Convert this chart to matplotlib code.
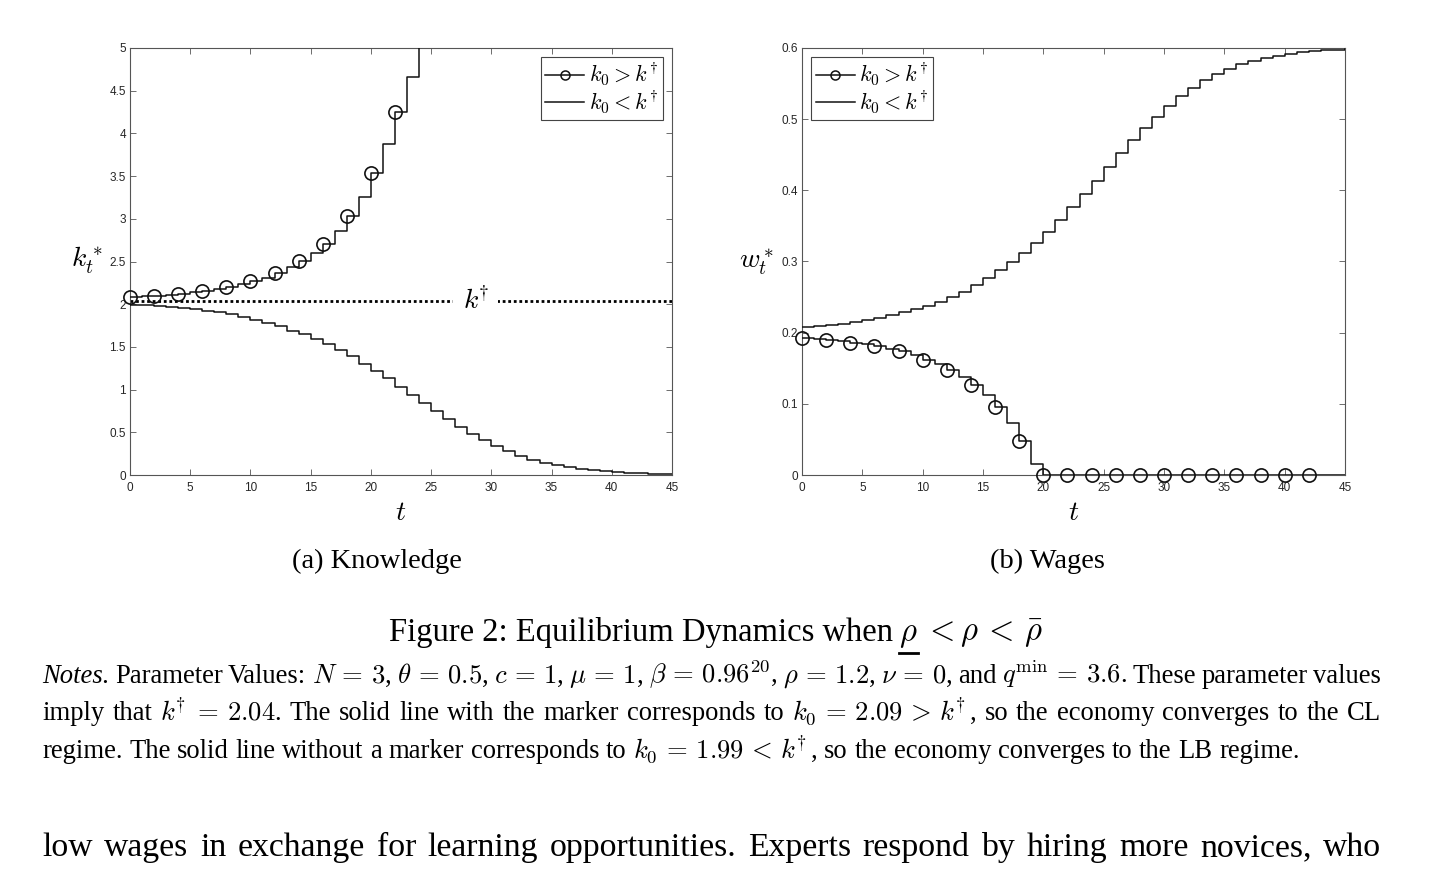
import re
import matplotlib
matplotlib.use('Agg')
import matplotlib.pyplot as plt
import numpy as np
from matplotlib.lines import Line2D
from matplotlib.ticker import MultipleLocator, FuncFormatter

# ---- data ----
t = np.arange(46)          # periods 0..45
t_hi = np.arange(25)       # k0 > k_dagger path leaves the plot after t=24

k_dagger = 2.04

# knowledge, k0 > k_dagger (with markers)
k_hi = [2.09, 2.095, 2.10, 2.11, 2.125, 2.14, 2.16, 2.18, 2.205, 2.235,
        2.27, 2.31, 2.365, 2.43, 2.51, 2.60, 2.71, 2.855, 3.03, 3.25,
        3.54, 3.88, 4.25, 4.66, 5.3]
# knowledge, k0 < k_dagger
k_lo = [1.99, 1.985, 1.975, 1.965, 1.955, 1.94, 1.925, 1.905, 1.88, 1.855,
        1.82, 1.78, 1.74, 1.69, 1.65, 1.59, 1.53, 1.46, 1.39, 1.30,
        1.22, 1.13, 1.035, 0.94, 0.84, 0.745, 0.655, 0.565, 0.48, 0.405,
        0.34, 0.28, 0.225, 0.18, 0.145, 0.115, 0.09, 0.07, 0.055, 0.043,
        0.033, 0.025, 0.018, 0.013, 0.01, 0.007]
# wages, k0 > k_dagger (with markers)
w_hi = [0.1925, 0.1915, 0.189, 0.1878, 0.186, 0.184, 0.181, 0.1775, 0.174, 0.168,
        0.162, 0.156, 0.148, 0.1375, 0.127, 0.1125, 0.095, 0.073, 0.048, 0.015,
        0, 0, 0, 0, 0, 0, 0, 0, 0, 0,
        0, 0, 0, 0, 0, 0, 0, 0, 0, 0,
        0, 0, 0, 0, 0, 0]
# wages, k0 < k_dagger
w_lo = [0.2085, 0.209, 0.2105, 0.2125, 0.215, 0.2178, 0.221, 0.2249, 0.2285, 0.233,
        0.2375, 0.2432, 0.250, 0.2578, 0.2667, 0.2765, 0.2875, 0.299, 0.312, 0.326,
        0.3417, 0.3586, 0.377, 0.3947, 0.4134, 0.433, 0.4518, 0.4706, 0.4875, 0.5034,
        0.5184, 0.532, 0.5442, 0.5545, 0.5634, 0.5705, 0.577, 0.5817, 0.5855, 0.5887,
        0.5916, 0.594, 0.5953, 0.5967, 0.5977, 0.598]

kd = r'k^{\!\dagger}'
kd_tight = r'k^{\!\!\dagger}'
label_hi = r'$k_0 > ' + kd + '$'
label_lo = r'$k_0 < ' + kd + '$'

# ---- page text ----
sub_a = '(a) Knowledge'
sub_b = '(b) Wages'
# caption pieces; the second one (rho) gets an underline drawn by hand
caption = ['Figure 2: Equilibrium Dynamics when', r'$\rho$', r'$< \rho < \bar{\rho}$']
notes = [
    r'Notes. Parameter Values: $N = 3$, $\theta = 0.5$, $c = 1$, $\mu = 1$, $\beta = 0.96^{20}$, '
    r'$\rho = 1.2$, $\nu = 0$, and $q^{\mathrm{min}} = 3.6$. These parameter values',
    r'imply that $' + kd_tight + r' = 2.04$. The solid line with the marker corresponds to '
    r'$k_0 = 2.09 > ' + kd_tight + r'$, so the economy converges to the CL',
    r'regime. The solid line without a marker corresponds to $k_0 = 1.99 < ' + kd_tight + r'$, '
    r'so the economy converges to the LB regime.',
]
body = 'low wages in exchange for learning opportunities. Experts respond by hiring more novices, who'


def spaced(s):
    # a little more room around relations, as in the typeset original
    for rel in ('=', '<', '>'):
        s = s.replace(' ' + rel + ' ', r'\,' + rel + r'\,')
    return s


plt.rcParams['font.family'] = 'Liberation Sans'
plt.rcParams['mathtext.fontset'] = 'cm'

W, H = 1432, 876
fig = plt.figure(figsize=(W / 100, H / 100), dpi=100)

line_c = '#111111'
lw = 1.1
serif = 'Liberation Serif'


def style_axes(ax, ymax, ystep):
    ax.set_xlim(0, 45)
    ax.set_ylim(0, ymax)
    ax.xaxis.set_major_locator(MultipleLocator(5))
    ax.yaxis.set_major_locator(MultipleLocator(ystep))
    ax.yaxis.set_major_formatter(FuncFormatter(lambda v, p: f'{v:g}'))
    ax.tick_params(direction='in', top=True, right=True, length=4, width=0.6,
                   color='#555555', labelcolor='#262626', labelsize=8.5)
    ax.tick_params(axis='x', pad=5)
    ax.tick_params(axis='y', pad=3)
    for s in ax.spines.values():
        s.set_color('#555555')
        s.set_linewidth(0.8)


def legend_handles():
    return [Line2D([0], [0], color=line_c, lw=lw, marker='o', ms=6.5, mfc='none',
                   mec=line_c, mew=1.1, label=label_hi),
            Line2D([0], [0], color=line_c, lw=lw, label=label_lo)]


def add_legend(ax, loc):
    leg = ax.legend(handles=legend_handles(), loc=loc, fontsize=16, fancybox=False,
                    edgecolor='#444444', framealpha=1, borderpad=0.2, labelspacing=0.05,
                    handlelength=1.75, handletextpad=0.2, borderaxespad=0.42)
    leg.get_frame().set_linewidth(0.8)


# ---- (a) knowledge ----
ax1 = fig.add_axes([130 / W, 1 - 475 / H, 542 / W, 427 / H])
style_axes(ax1, 5, 0.5)
ax1.axhline(k_dagger, color='black', lw=2, ls=(0, (1, 1)), zorder=1)
ax1.text(28.7, k_dagger, '$' + kd_tight + '$', fontsize=20, ha='center', va='center',
         bbox=dict(boxstyle='square,pad=0.35', fc='white', ec='none'), zorder=2)
ax1.plot(t_hi, k_hi, drawstyle='steps-post', color=line_c, lw=lw, zorder=3)
k_hi_arr = np.array(k_hi)
vis = (t_hi % 2 == 0) & (k_hi_arr <= 5)
ax1.plot(t_hi[vis], k_hi_arr[vis], 'o', ms=9.5, mfc='none', mec=line_c, mew=1.2,
         clip_on=False, zorder=4)
ax1.plot(t, k_lo, drawstyle='steps-post', color=line_c, lw=lw, zorder=3)
ax1.set_ylabel(r'$k_t^*$', rotation=0, fontsize=20, ha='center', va='center')
ax1.yaxis.set_label_coords(-0.079, 0.503)
ax1.set_xlabel(r'$t$', fontsize=20, va='center')
ax1.xaxis.set_label_coords(0.5, -0.089)
add_legend(ax1, 'upper right')

# ---- (b) wages ----
ax2 = fig.add_axes([802 / W, 1 - 475 / H, 543 / W, 427 / H])
style_axes(ax2, 0.6, 0.1)
ax2.plot(t, w_lo, drawstyle='steps-post', color=line_c, lw=lw, zorder=3)
ax2.plot(t, w_hi, drawstyle='steps-post', color=line_c, lw=lw, zorder=3)
ax2.plot(t[::2][:-1], w_hi[::2][:-1], 'o', ms=9.5, mfc='none', mec=line_c, mew=1.2,
         clip_on=False, zorder=4)
ax2.set_ylabel(r'$w_t^*$', rotation=0, fontsize=20, ha='center', va='center')
ax2.yaxis.set_label_coords(-0.083, 0.499)
ax2.set_xlabel(r'$t$', fontsize=20, va='center')
ax2.xaxis.set_label_coords(0.5, -0.089)
add_legend(ax2, 'upper left')

# ---- captions and page text ----
fig.text(377 / W, 1 - 568 / H, sub_a, family=serif, fontsize=20.5, ha='center', va='baseline')
fig.text(1047 / W, 1 - 568 / H, sub_b, family=serif, fontsize=20.5, ha='center', va='baseline')

renderer = fig.canvas.get_renderer()


def place_words(words, y_px, size, x0=42, x1=1381, justify=True, center=None,
                first_italic=False, gap_em=0.25):
    items = []
    for i, w in enumerate(words):
        style = 'italic' if (first_italic and i == 0) else 'normal'
        items.append(fig.text(0, 1 - y_px / H, spaced(w), family=serif, fontsize=size,
                              style=style, va='baseline'))
    widths = [it.get_window_extent(renderer).width for it in items]
    if justify:
        gap = (x1 - x0 - sum(widths)) / (len(words) - 1)
    else:
        gap = size * fig.dpi / 72 * gap_em
    if center is not None:
        x0 = center - (sum(widths) + gap * (len(words) - 1)) / 2
    x = x0
    for it, w in zip(items, widths):
        it.set_x(x / W)
        x += w + gap
    return items


def put_line(text, y_px, size, **kw):
    words = re.findall(r'\S*\$[^$]*\$\S*|\S+', text)
    return place_words(words, y_px, size, **kw)


cap_items = place_words(caption, 641, 23.5, justify=False, center=716, gap_em=0.2)
rb = cap_items[1].get_window_extent(renderer)
fig.add_artist(Line2D([rb.x0 / W, rb.x1 / W], [(rb.y0 - 3) / H] * 2,
                      transform=fig.transFigure, color='black', lw=2))

put_line(notes[0], 683, 19.2, first_italic=True)
put_line(notes[1], 720.5, 19.2)
put_line(notes[2], 758, 19.2, justify=False)
put_line(body, 856, 24.3)

fig.savefig('out.png', dpi=100, facecolor='white')
